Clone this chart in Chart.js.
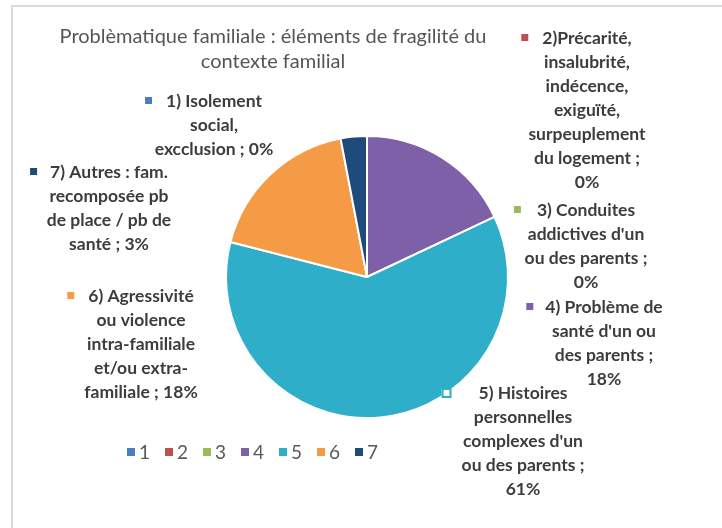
<!DOCTYPE html>
<html>
<head>
<meta charset="utf-8">
<script src="https://cdn.jsdelivr.net/npm/chart.js@4/dist/chart.umd.min.js"></script>
<style>
  html, body { margin: 0; padding: 0; background: #fff; }
  #wrap { position: relative; width: 722px; height: 528px; }
  #frame { position: absolute; left: 11px; top: 5px; right: -4px; bottom: -4px; border: 2px solid #dadada; }
  canvas { position: absolute; left: 0; top: 0; }
</style>
</head>
<body>
<div id="wrap">
  <div id="frame"></div>
  <canvas id="grafico" width="722" height="528"></canvas>
</div>
<script>
const categories = ['1', '2', '3', '4', '5', '6', '7'];
const valeurs = [0, 0, 0, 18, 61, 18, 3];
const libelles = [
    '1) Isolement\nsocial,\nexcclusion',
    '2)Précarité,\ninsalubrité,\nindécence,\nexiguïté,\nsurpeuplement\ndu logement',
    '3) Conduites\naddictives d\'un\nou des parents',
    '4) Problème de\nsanté d\'un ou\ndes parents',
    '5) Histoires\npersonnelles\ncomplexes d\'un\nou des parents',
    '6) Agressivité\nou violence\nintra-familiale\net/ou extra-\nfamiliale',
    '7) Autres : fam.\nrecomposée pb\nde place / pb de\nsanté'
];
const couleurs = ['#4a7ebf', '#c0504d', '#9bbb59', '#7d60a8', '#2eaec8', '#f59b45', '#1f4a7c'];
const titre = ['Problèmatique familiale : éléments de fragilité du', 'contexte familial'];

// placement of the data labels (centre x, first line y), like Excel's callouts
const posLabels = [
    { x: 214, y: 101, sep: ' ; ', gap: 18 },
    { x: 587, y: 38, sep: ' ;\n', gap: 18 },
    { x: 586, y: 210, sep: ' ;\n', gap: 20 },
    { x: 604, y: 307, sep: ' ;\n', gap: 16 },
    { x: 523, y: 393, sep: ' ;\n', gap: 32, hollow: true },
    { x: 141, y: 296, sep: ' ; ', gap: 18 },
    { x: 109, y: 172, sep: ' ; ', gap: 17 }
];

const etiquettes = {
    id: 'etiquettes',
    afterDraw(chart) {
        const c = chart.ctx;
        c.save();
        c.textBaseline = 'middle';
        c.textAlign = 'center';

        // titre
        c.fillStyle = '#555555';
        c.font = '20px Lato';
        c.fillText(titre[0], 273, 37);
        c.fillText(titre[1], 273, 62);

        // data labels
        c.font = 'bold 17.5px Lato';
        valeurs.forEach((v, i) => {
            const p = posLabels[i];
            const lines = (libelles[i] + p.sep + v + '%').split('\n');
            c.fillStyle = '#3c3c3c';
            lines.forEach((l, k) => c.fillText(l, p.x, p.y + k * 24));
            const w = c.measureText(lines[0]).width;
            const mx = p.x - w / 2 - p.gap;
            if (p.hollow) {
                c.fillStyle = '#fff';
                c.fillRect(mx - 5, p.y - 5, 10, 10);
                c.strokeStyle = couleurs[i];
                c.lineWidth = 2;
                c.strokeRect(mx - 4, p.y - 4, 8, 8);
            } else {
                c.fillStyle = couleurs[i];
                c.fillRect(mx - 3, p.y - 4, 7, 7);
            }
        });

        // legende
        c.font = '19px Lato';
        c.textAlign = 'left';
        categories.forEach((cat, i) => {
            const x = 127 + i * 38;
            c.fillStyle = couleurs[i];
            c.fillRect(x, 448, 8, 8);
            c.fillStyle = '#595959';
            c.fillText(cat, x + 12, 453);
        });
        c.restore();
    }
};

document.addEventListener("DOMContentLoaded", function () {
    const ctx = document.getElementById('grafico').getContext('2d');
    const grafico = new Chart(ctx, {
        type: 'pie',
        data: {
            labels: categories,
            datasets: [{
                data: valeurs,
                backgroundColor: couleurs,
                borderColor: '#ffffff',
                borderWidth: 2
            }]
        },
        options: {
            responsive: false,
            animation: false,
            layout: { padding: { left: 225, right: 213, top: 135, bottom: 109 } },
            plugins: {
                legend: { display: false },
                title: { display: false },
                tooltip: { enabled: false }
            }
        },
        plugins: [etiquettes]
    });
});
</script>
</body>
</html>
